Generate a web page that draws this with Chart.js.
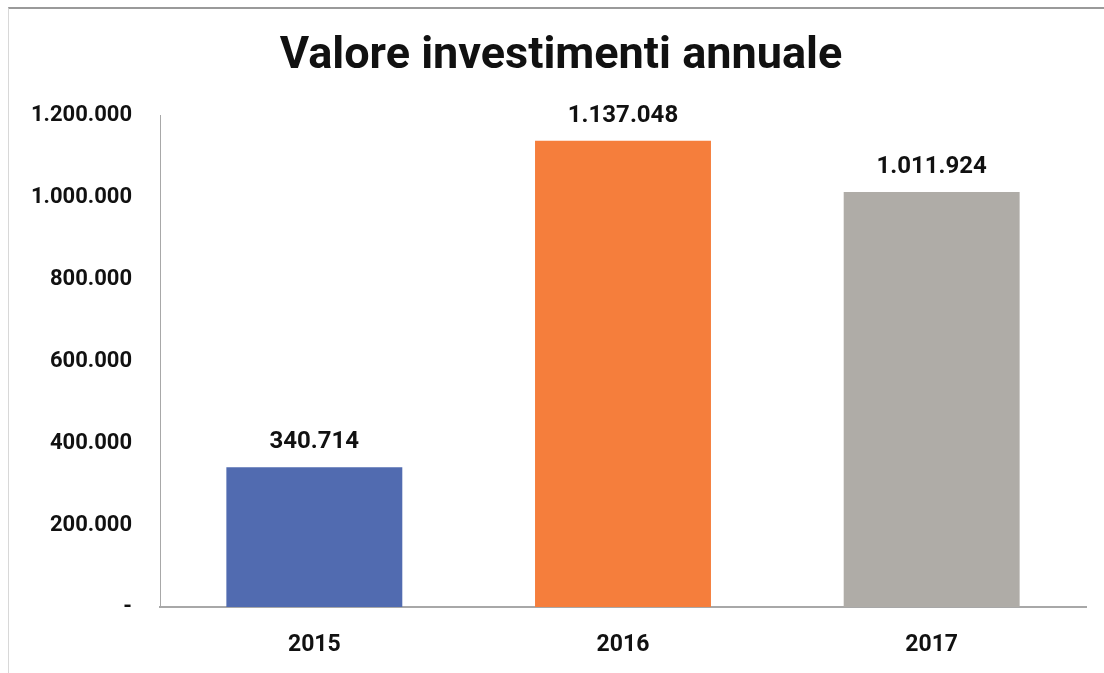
<!DOCTYPE html>
<html>
<head>
<meta charset="utf-8">
<script src="https://cdn.jsdelivr.net/npm/chart.js@4.4.0/dist/chart.umd.min.js"></script>
<style>
  html, body { margin: 0; padding: 0; background: #fff; }
  #wrap { position: relative; width: 1104px; height: 673px; }
  #frame { position: absolute; left: 8px; top: 7px; right: 0; bottom: 0;
           border-top: 2px solid #9a9a9a; border-left: 1px solid #d8d8d8; }
  canvas { position: absolute; left: 0; top: 0; }
</style>
</head>
<body>
<div id="wrap">
  <div id="frame"></div>
  <canvas id="myChart" width="1104" height="673"></canvas>
</div>
<script>
const chartTitle = 'Valore investimenti annuale';
const years = ['2015', '2016', '2017'];
const investimenti = [340714, 1137048, 1011924];
const barColors = ['#516bb0', '#f57e3c', '#afaca7'];
const yTicks = [0, 200000, 400000, 600000, 800000, 1000000, 1200000];

const FONT = "Roboto, 'Liberation Sans', sans-serif";

// numbers with dots as thousand separators
const fmt = v => v === 0 ? '-' : String(v).replace(/\B(?=(\d{3})+(?!\d))/g, '.');

// labels on top of the bars + title (centred a bit right of the canvas centre)
const valueLabels = {
  id: 'valueLabels',
  afterDatasetsDraw(chart) {
    const ctx = chart.ctx;
    const meta = chart.getDatasetMeta(0);
    ctx.save();
    ctx.font = 'bold 24px ' + FONT;
    ctx.fillStyle = '#111';
    ctx.textAlign = 'center';
    ctx.textBaseline = 'middle';
    meta.data.forEach((bar, i) => {
      ctx.fillText(fmt(investimenti[i]), bar.x, bar.y - 25);
    });
    const area = chart.chartArea;
    ctx.font = 'bold 45px ' + FONT;
    ctx.fillText(chartTitle, (area.left - 124 + area.right) / 2, 57);
    ctx.restore();
  }
};

var config = {
  type: 'bar',
  data: {
    labels: years,
    datasets: [{
      label: 'Valore',
      data: investimenti,
      backgroundColor: barColors,
      barPercentage: 0.57,
      categoryPercentage: 1
    }]
  },
  options: {
    responsive: false,
    animation: false,
    layout: { padding: { left: 0, right: 18, top: 115, bottom: 0 } },
    plugins: {
      legend: { display: false },
      tooltip: { enabled: false },
      title: { display: false }
    },
    scales: {
      x: {
        afterFit: s => { s.height = 66; },
        grid: { display: false, drawTicks: false },
        border: { color: '#a8a8a8', width: 2 },
        ticks: { color: '#111', padding: 24, font: { family: FONT, size: 23, weight: 'bold' } }
      },
      y: {
        min: 0,
        max: 1200000,
        afterFit: s => { s.width = 160; },
        afterBuildTicks: s => { s.ticks = yTicks.map(v => ({ value: v })); },
        grid: { display: false, drawTicks: false },
        border: { color: '#a8a8a8', width: 1 },
        ticks: {
          color: '#111',
          padding: 28,
          font: { family: FONT, size: 22, weight: 'bold' },
          callback: v => fmt(v)
        }
      }
    }
  },
  plugins: [valueLabels]
};

var myChart = new Chart(document.getElementById('myChart'), config);
</script>
</body>
</html>
